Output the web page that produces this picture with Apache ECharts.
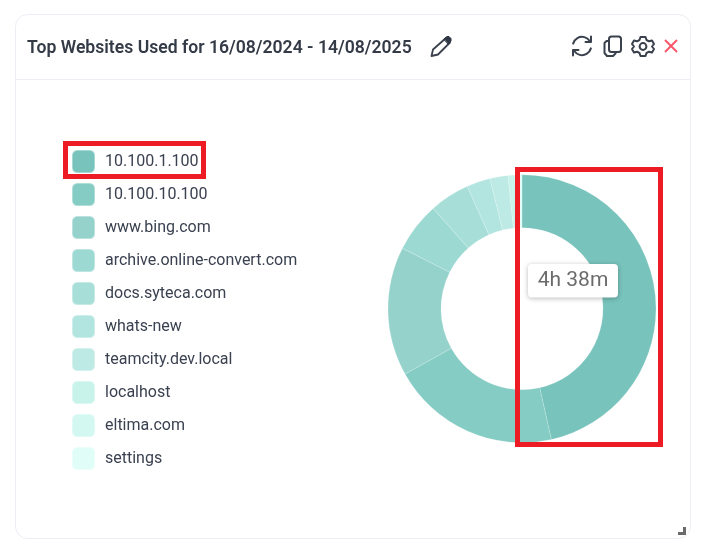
<!DOCTYPE html>
<html><head><meta charset="utf-8">
<style>html,body{margin:0;padding:0;background:#fff}#c{width:705px;height:552px}</style>
<script src="https://cdn.jsdelivr.net/npm/echarts@6/dist/echarts.min.js"></script>
</head><body><div id="c"></div>
<script>
const titleText = 'Top Websites Used for 16/08/2024 - 14/08/2025';
const categories = ['10.100.1.100','10.100.10.100','www.bing.com','archive.online-convert.com','docs.syteca.com','whats-new','teamcity.dev.local','localhost','eltima.com','settings'];
const minutesUsed = [278,122,93,36,29,17,13,5,3,2];
const sliceColors = ['#78c3bc','#85ccc4','#94d2cb','#9cd9d2','#a7dfd8','#b2e5df','#bdeae4','#c8f3ea','#d3f8f1','#e0fdf8'];
const fmt = m => Math.floor(m/60)+'h '+(m%60)+'m';
const RED='#ed1c24', INK='#3a4150', ICON='#3a414d';
const st=o=>Object.assign({fill:'none',stroke:ICON,lineWidth:2,lineCap:'round',lineJoin:'round'},o||{});
const poly=(points,o)=>({type:'polyline',z:20,silent:true,shape:{points},style:st(o)});
const polygon=(points,o)=>({type:'polygon',z:20,silent:true,shape:{points},style:st(o)});
const arc=(cx,cy,r,a,b)=>({type:'arc',z:20,silent:true,shape:{cx,cy,r,startAngle:a*Math.PI/180,endAngle:b*Math.PI/180,clockwise:true},style:st()});
const chart=echarts.init(document.getElementById('c'),null,{renderer:'canvas'});
chart.setOption({
  animation:false,backgroundColor:'#fff',
  title:{text:titleText,left:27,top:39,textStyle:{fontFamily:'Roboto',fontSize:17.6,fontWeight:600,color:'#343b47',lineHeight:20},padding:0},
  legend:{orient:'vertical',left:71,top:149,itemWidth:23,itemHeight:23,itemGap:8,padding:0,selectedMode:false,
    icon:'path://M5 0H17A5 5 0 0 1 22 5V17A5 5 0 0 1 17 22H5A5 5 0 0 1 0 17V5A5 5 0 0 1 5 0Z',
    textStyle:{fontFamily:'Roboto',fontSize:16,color:INK,padding:[0,0,0,5]},data:categories},
  series:[{type:'pie',center:[522,308.7],radius:[81,134],startAngle:90,clockwise:true,silent:true,
    label:{show:false},labelLine:{show:false},
    itemStyle:{borderColor:'rgba(255,255,255,0.35)',borderWidth:0.5},
    data:categories.map((n,i)=>({name:n,value:minutesUsed[i],itemStyle:{color:sliceColors[i]}}))}],
  graphic:{elements:[
    {type:'rect',z:-1,silent:true,shape:{x:15.5,y:14.5,width:675,height:524,r:12},style:{fill:'#fff',stroke:'#eceef4',lineWidth:1}},
    {type:'line',z:1,silent:true,shape:{x1:16,y1:79.5,x2:690,y2:79.5},style:{stroke:'#eceef4',lineWidth:1}},
    // pencil
    polygon([[431.5,56],[433,49.5],[446,38],[450,42.5],[438,54.5]],{lineWidth:1.8}),
    polygon([[444,39],[447,36.5],[449,36.5],[451,38.5],[451,41],[448.5,44]],{fill:'#2f3744',stroke:'#2f3744',lineWidth:1}),
    // refresh
    arc(582,46,9.2,195,325), poly([[591,36.5],[591,42],[585.5,42]]),
    arc(582,46,9.2,15,145), poly([[573,55.5],[573,50],[578.5,50]]),
    // copy
    {type:'rect',z:20,silent:true,shape:{x:609,y:36.5,width:12,height:15.5,r:2.5},style:st()},
    poly([[609,41],[606.5,41],[604.5,43],[604.5,53],[607,56],[613,56],[615.5,53.5],[615.5,52]]),
    // gear
    polygon([[640.5,37],[645.5,37],[646.5,40],[649,41.3],[652,40.5],[654,44],[652,46.5],[654,49],[652,52.5],[649,51.7],[646.5,53],[645.5,56],[640.5,56],[639.5,53],[637,51.7],[634,52.5],[632,49],[634,46.5],[632,44],[634,40.5],[637,41.3],[639.5,40]]),
    {type:'circle',z:20,silent:true,shape:{cx:643,cy:46.5,r:3.4},style:st()},
    // close
    {type:'line',z:20,silent:true,shape:{x1:665,y1:40,x2:677,y2:52},style:{stroke:'#f8566b',lineWidth:2}},
    {type:'line',z:20,silent:true,shape:{x1:677,y1:40,x2:665,y2:52},style:{stroke:'#f8566b',lineWidth:2}},
    // resize grip
    poly([[678,533.5],[684.5,533.5],[684.5,527]],{stroke:'#6a6a6a',lineWidth:3,lineCap:'butt',lineJoin:'miter'}),
    // highlights
    {type:'rect',z:30,silent:true,shape:{x:65.5,y:143.5,width:138,height:33},style:{fill:'none',stroke:RED,lineWidth:5}},
    {type:'rect',z:30,silent:true,shape:{x:517.5,y:169.5,width:143,height:275},style:{fill:'none',stroke:RED,lineWidth:5}},
    // tooltip
    {type:'rect',z:40,silent:true,shape:{x:528,y:264,width:90,height:33.5,r:4},style:{fill:'#fff',shadowBlur:5,shadowColor:'rgba(0,0,0,0.28)',shadowOffsetY:1}},
    {type:'text',z:41,silent:true,x:573,y:281,style:{text:fmt(minutesUsed[0]),font:'21px Roboto',fill:'#6b6b6b',align:'center',verticalAlign:'middle'}}
  ]}
});
</script></body></html>
